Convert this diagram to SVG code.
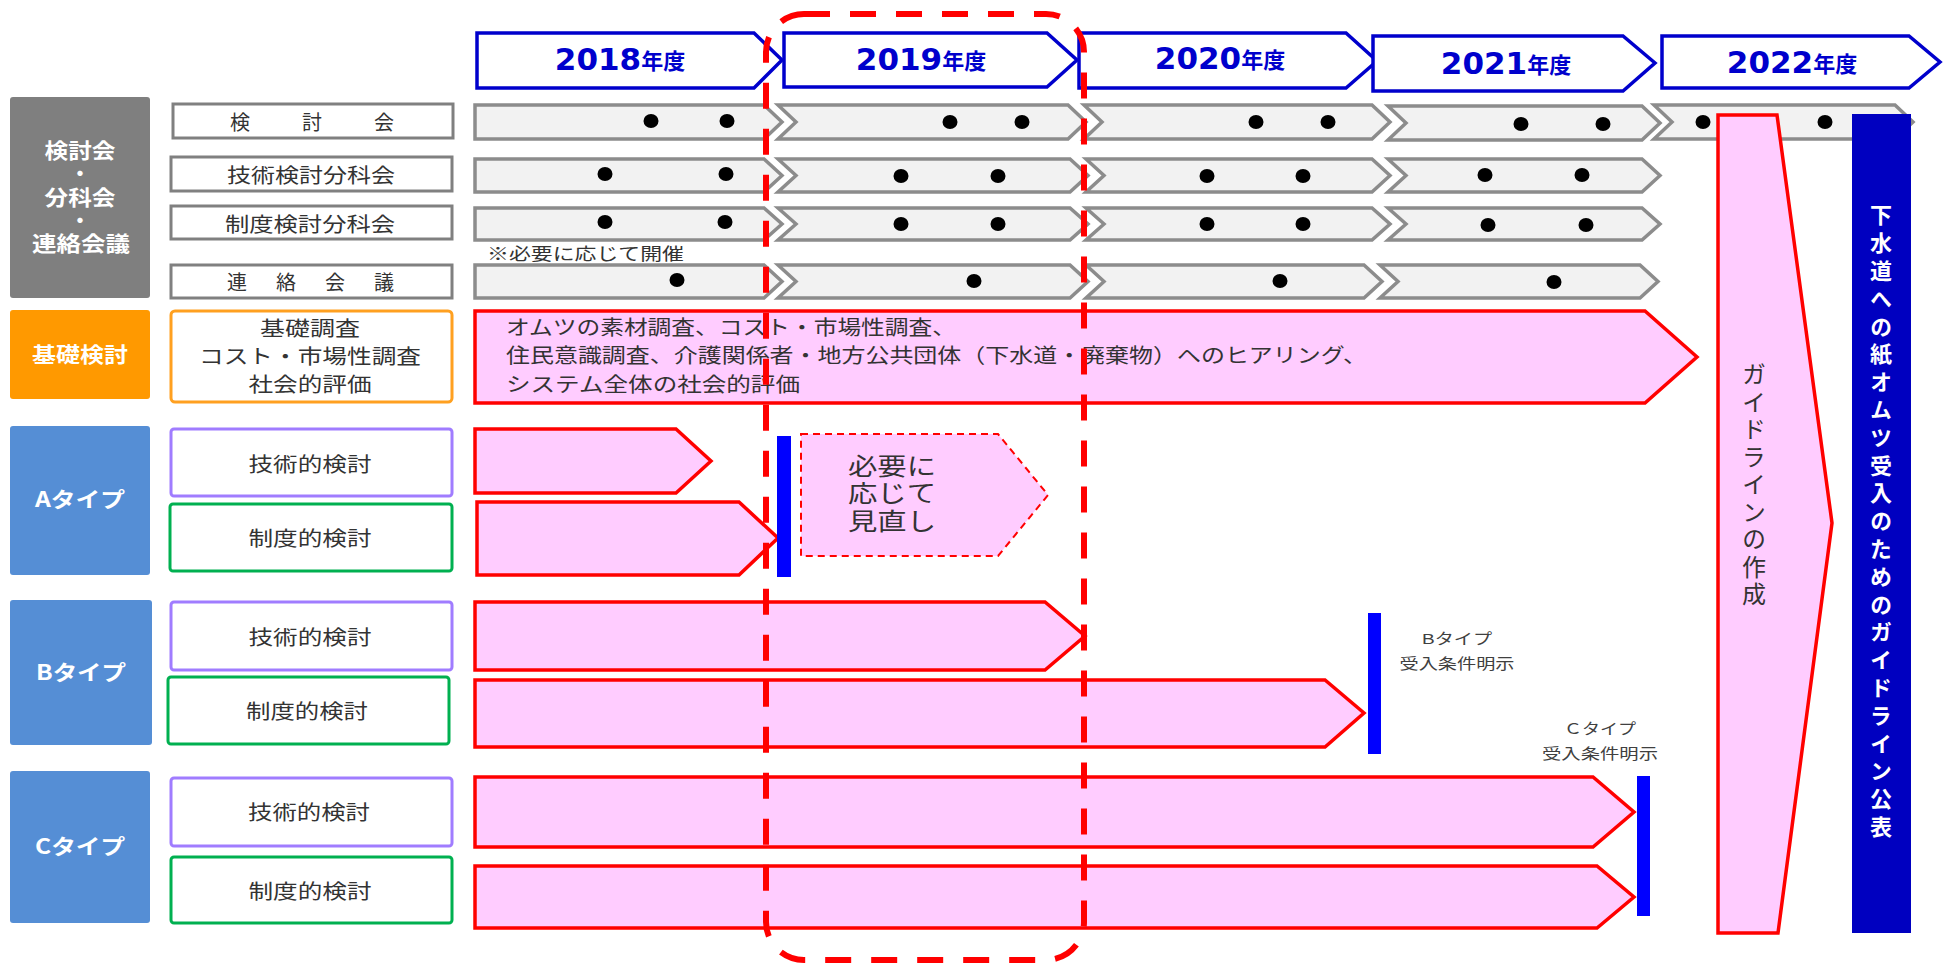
<svg xmlns="http://www.w3.org/2000/svg" width="1955" height="965" viewBox="0 0 1955 965">
<style>
text{font-family:"Noto Sans CJK JP","Noto Sans",sans-serif;dominant-baseline:central}
.ml{font-family:"Liberation Sans","Noto Sans CJK JP",sans-serif}
.hdr{fill:#fff;stroke:#0000CC;stroke-width:3.5}
.hdrt{fill:#0000CC;font-weight:bold;text-anchor:middle}
.num{font-family:"DejaVu Sans",sans-serif;font-size:31px}
.nen{font-size:22px}
.chev{fill:#F2F2F2;stroke:#8C8C8C;stroke-width:3.5}
.dot{fill:#000}
.lbl{fill:#fff;stroke:#808080;stroke-width:3}
.lt{fill:#333;font-size:20px;text-anchor:middle}
.wt{fill:#fff;font-size:21px;font-weight:bold;text-anchor:middle}
.pink{fill:#FFCCFF;stroke:#FF0000;stroke-width:3.5;stroke-linejoin:miter}
.pt{fill:#333;font-size:20px}
.bar{fill:#0000FF}
.sm{fill:#404040;font-size:15px;text-anchor:middle}
.purple{fill:#fff;stroke:#A07CFF;stroke-width:3}
.green{fill:#fff;stroke:#00B050;stroke-width:3}
.typ{fill:#558ED5}
</style>

<g id="headers">
<g id="h2018"><path class="hdr" d="M477,33 H754 L782,60 L754,88 H477 Z"/><text class="hdrt" x="620" y="59"><tspan class="num">2018</tspan><tspan class="nen">年度</tspan></text></g>
<g id="h2019"><path class="hdr" d="M784,33 H1047 L1077,60 L1047,87 H784 Z"/><text class="hdrt" x="921" y="59"><tspan class="num">2019</tspan><tspan class="nen">年度</tspan></text></g>
<g id="h2020"><path class="hdr" d="M1079,33 H1346 L1377,61 L1346,88 H1079 Z"/><text class="hdrt" x="1220" y="58"><tspan class="num">2020</tspan><tspan class="nen">年度</tspan></text></g>
<g id="h2021"><path class="hdr" d="M1373,36 H1623 L1655,63 L1623,91 H1373 Z"/><text class="hdrt" x="1506" y="63"><tspan class="num">2021</tspan><tspan class="nen">年度</tspan></text></g>
<g id="h2022"><path class="hdr" d="M1662,36 H1909 L1940,62 L1909,88 H1662 Z"/><text class="hdrt" x="1792" y="62"><tspan class="num">2022</tspan><tspan class="nen">年度</tspan></text></g>
</g>

<g id="group-meetings">
<rect x="10" y="97" width="140" height="201" rx="3" fill="#7F7F7F"/>
<text class="wt ml"><tspan x="80" y="150" textLength="71" lengthAdjust="spacingAndGlyphs">検討会</tspan><tspan x="80" y="173">・</tspan><tspan x="80" y="197" textLength="71" lengthAdjust="spacingAndGlyphs">分科会</tspan><tspan x="80" y="220">・</tspan><tspan x="81" y="243" textLength="98" lengthAdjust="spacingAndGlyphs">連絡会議</tspan></text>
</g>

<g id="label-kentoukai"><rect class="lbl" x="173" y="104" width="280" height="34"/><text class="lt" x="230" y="121" style="text-anchor:start;letter-spacing:16px">検　討　会</text></g>
<g id="label-gijutsu-bunkakai"><rect class="lbl" x="171" y="157" width="281" height="34"/><text class="lt" x="311" y="174" textLength="168" lengthAdjust="spacingAndGlyphs">技術検討分科会</text></g>
<g id="label-seido-bunkakai"><rect class="lbl" x="171" y="206" width="281" height="33"/><text class="lt" x="310" y="223" textLength="170" lengthAdjust="spacingAndGlyphs">制度検討分科会</text></g>
<g id="label-renraku"><rect class="lbl" x="171" y="265" width="281" height="33"/><text class="lt" x="227" y="281" style="text-anchor:start;letter-spacing:4.5px">連　絡　会　議</text></g>

<g id="timeline-rows">
<path class="chev" d="M475,105 H764 L782,122 L764,139 H475 Z"/>
<path class="chev" d="M778,105 H1068 L1086,122 L1068,139 H778 L796,122 Z"/>
<path class="chev" d="M1084,105 H1372 L1390,122 L1372,139 H1084 L1102,122 Z"/>
<path class="chev" d="M1388,106 H1642 L1660,123 L1642,140 H1388 L1406,123 Z"/>
<path class="chev" d="M1654,105 H1895 L1913,122 L1895,139 H1654 L1672,122 Z"/>

<path class="chev" d="M475,159 H764 L782,175.5 L764,192 H475 Z"/>
<path class="chev" d="M778,159 H1070 L1088,175.5 L1070,192 H778 L796,175.5 Z"/>
<path class="chev" d="M1086,159 H1372 L1390,175.5 L1372,192 H1086 L1104,175.5 Z"/>
<path class="chev" d="M1388,159 H1642 L1660,175.5 L1642,192 H1388 L1406,175.5 Z"/>

<path class="chev" d="M475,208 H764 L782,224 L764,240 H475 Z"/>
<path class="chev" d="M778,208 H1070 L1088,224 L1070,240 H778 L796,224 Z"/>
<path class="chev" d="M1086,208 H1372 L1390,224 L1372,240 H1086 L1104,224 Z"/>
<path class="chev" d="M1388,208 H1642 L1660,224 L1642,240 H1388 L1406,224 Z"/>

<path class="chev" d="M475,265 H764 L782,281.5 L764,298 H475 Z"/>
<path class="chev" d="M778,265 H1070 L1088,281.5 L1070,298 H778 L796,281.5 Z"/>
<path class="chev" d="M1086,265 H1364 L1382,281.5 L1364,298 H1086 L1104,281.5 Z"/>
<path class="chev" d="M1380,265 H1640 L1658,281.5 L1640,298 H1380 L1398,281.5 Z"/>

<g>
<ellipse class="dot" cx="651" cy="121" rx="7.5" ry="7"/><ellipse class="dot" cx="727" cy="121" rx="7.5" ry="7"/>
<ellipse class="dot" cx="950" cy="122" rx="7.5" ry="7"/><ellipse class="dot" cx="1022" cy="122" rx="7.5" ry="7"/>
<ellipse class="dot" cx="1256" cy="122" rx="7.5" ry="7"/><ellipse class="dot" cx="1328" cy="122" rx="7.5" ry="7"/>
<ellipse class="dot" cx="1521" cy="124" rx="7.5" ry="7"/><ellipse class="dot" cx="1603" cy="124" rx="7.5" ry="7"/>
<ellipse class="dot" cx="1703" cy="122" rx="7.5" ry="7"/><ellipse class="dot" cx="1825" cy="122" rx="7.5" ry="7"/>

<ellipse class="dot" cx="605" cy="174" rx="7.5" ry="7"/><ellipse class="dot" cx="726" cy="174" rx="7.5" ry="7"/>
<ellipse class="dot" cx="901" cy="176" rx="7.5" ry="7"/><ellipse class="dot" cx="998" cy="176" rx="7.5" ry="7"/>
<ellipse class="dot" cx="1207" cy="176" rx="7.5" ry="7"/><ellipse class="dot" cx="1303" cy="176" rx="7.5" ry="7"/>
<ellipse class="dot" cx="1485" cy="175" rx="7.5" ry="7"/><ellipse class="dot" cx="1582" cy="175" rx="7.5" ry="7"/>

<ellipse class="dot" cx="605" cy="222" rx="7.5" ry="7"/><ellipse class="dot" cx="725" cy="222" rx="7.5" ry="7"/>
<ellipse class="dot" cx="901" cy="224" rx="7.5" ry="7"/><ellipse class="dot" cx="998" cy="224" rx="7.5" ry="7"/>
<ellipse class="dot" cx="1207" cy="224" rx="7.5" ry="7"/><ellipse class="dot" cx="1303" cy="224" rx="7.5" ry="7"/>
<ellipse class="dot" cx="1488" cy="225" rx="7.5" ry="7"/><ellipse class="dot" cx="1586" cy="225" rx="7.5" ry="7"/>

<ellipse class="dot" cx="677" cy="280" rx="7.5" ry="7"/><ellipse class="dot" cx="974" cy="281" rx="7.5" ry="7"/>
<ellipse class="dot" cx="1280" cy="281" rx="7.5" ry="7"/><ellipse class="dot" cx="1554" cy="282" rx="7.5" ry="7"/>
</g>
<text x="487" y="252" fill="#333" font-size="17" textLength="197" lengthAdjust="spacingAndGlyphs">※必要に応じて開催</text>
</g>

<g id="kiso">
<rect x="10" y="310" width="140" height="89" rx="3" fill="#FF9900"/>
<text class="wt" x="80" y="353" textLength="96" lengthAdjust="spacingAndGlyphs">基礎検討</text>
<rect x="171" y="311" width="281" height="91" rx="4" fill="#fff" stroke="#FFA020" stroke-width="3"/>
<text class="lt ml"><tspan x="310" y="329" textLength="100" lengthAdjust="spacingAndGlyphs">基礎調査</tspan><tspan x="310" y="357" textLength="222" lengthAdjust="spacingAndGlyphs">コスト・市場性調査</tspan><tspan x="310" y="385" textLength="123" lengthAdjust="spacingAndGlyphs">社会的評価</tspan></text>
<path class="pink" d="M475,311 H1645 L1697,357 L1645,403 H475 Z"/>
<text class="pt ml"><tspan x="506" y="328" textLength="450" lengthAdjust="spacingAndGlyphs">オムツの素材調査、コスト・市場性調査、</tspan><tspan x="506" y="356" textLength="861" lengthAdjust="spacingAndGlyphs">住民意識調査、介護関係者・地方公共団体（下水道・廃棄物）へのヒアリング、</tspan><tspan x="506" y="385" textLength="294" lengthAdjust="spacingAndGlyphs">システム全体の社会的評価</tspan></text>
</g>

<g id="type-a">
<rect class="typ" x="10" y="426" width="140" height="149" rx="3"/>
<text class="wt" x="80" y="498" textLength="90" lengthAdjust="spacingAndGlyphs">Aタイプ</text>
<rect class="purple" x="171" y="429" width="281" height="67" rx="3"/>
<text class="lt" x="310" y="463" textLength="123" lengthAdjust="spacingAndGlyphs">技術的検討</text>
<rect class="green" x="170" y="504" width="282" height="67" rx="3"/>
<text class="lt" x="310" y="537" textLength="123" lengthAdjust="spacingAndGlyphs">制度的検討</text>
<path class="pink" d="M475,429 H676 L711,461 L676,493 H475 Z"/>
<path class="pink" d="M477,502 H739 L778,538 L739,575 H477 Z"/>
<rect class="bar" x="777" y="436" width="14" height="141"/>
<path d="M801,434 H998 L1048,495 L998,556 H801 Z" fill="#FFCCFF" stroke="#FF0000" stroke-width="2" stroke-dasharray="7,5"/>
<text class="ml" fill="#333" font-size="24"><tspan x="848" y="466" textLength="88" lengthAdjust="spacingAndGlyphs">必要に</tspan><tspan x="848" y="493" textLength="88" lengthAdjust="spacingAndGlyphs">応じて</tspan><tspan x="848" y="521" textLength="88" lengthAdjust="spacingAndGlyphs">見直し</tspan></text>
</g>

<g id="type-b">
<rect class="typ" x="10" y="600" width="142" height="145" rx="3"/>
<text class="wt" x="81" y="671" textLength="90" lengthAdjust="spacingAndGlyphs">Bタイプ</text>
<rect class="purple" x="171" y="602" width="281" height="68" rx="3"/>
<text class="lt" x="310" y="636" textLength="123" lengthAdjust="spacingAndGlyphs">技術的検討</text>
<rect class="green" x="168" y="677" width="281" height="67" rx="3"/>
<text class="lt" x="307" y="710" textLength="122" lengthAdjust="spacingAndGlyphs">制度的検討</text>
<path class="pink" d="M475,602 H1045 L1085,636 L1045,670 H475 Z"/>
<path class="pink" d="M475,680 H1325 L1364,713 L1325,747 H475 Z"/>
<rect class="bar" x="1368" y="613" width="13" height="141"/>
<text class="sm ml"><tspan x="1457" y="638" textLength="70" lengthAdjust="spacingAndGlyphs">Bタイプ</tspan><tspan x="1457" y="663" textLength="115" lengthAdjust="spacingAndGlyphs">受入条件明示</tspan></text>
</g>

<g id="type-c">
<rect class="typ" x="10" y="771" width="140" height="152" rx="3"/>
<text class="wt" x="80" y="845" textLength="90" lengthAdjust="spacingAndGlyphs">Cタイプ</text>
<rect class="purple" x="171" y="778" width="281" height="68" rx="3"/>
<text class="lt" x="309" y="811" textLength="122" lengthAdjust="spacingAndGlyphs">技術的検討</text>
<rect class="green" x="171" y="857" width="281" height="66" rx="3"/>
<text class="lt" x="310" y="890" textLength="123" lengthAdjust="spacingAndGlyphs">制度的検討</text>
<path class="pink" d="M475,777 H1593 L1634,812 L1593,847 H475 Z"/>
<path class="pink" d="M475,866 H1597 L1634,897 L1597,928 H475 Z"/>
<rect class="bar" x="1637" y="776" width="13" height="140"/>
<text class="sm ml"><tspan x="1600" y="728" textLength="72" lengthAdjust="spacingAndGlyphs">Ｃタイプ</tspan><tspan x="1600" y="753" textLength="116" lengthAdjust="spacingAndGlyphs">受入条件明示</tspan></text>
</g>

<g id="guideline-make">
<path class="pink" d="M1718,115 H1777 L1832,523 L1778,933 H1718 Z"/>
<text x="1754" y="362" fill="#333" font-size="24" style="writing-mode:vertical-rl;letter-spacing:3.5px;dominant-baseline:auto">ガイドラインの作成</text>
</g>

<g id="guideline-publish">
<rect x="1852" y="114" width="59" height="819" fill="#0000C0"/>
<text x="1881" y="204" fill="#fff" font-size="22" font-weight="bold" style="writing-mode:vertical-rl;letter-spacing:5.8px;dominant-baseline:auto">下水道への紙オムツ受入のためのガイドライン公表</text>
</g>

<g id="highlight-2019">
<rect x="766" y="14" width="318" height="946" rx="38" fill="none" stroke="#FF0000" stroke-width="6" stroke-dasharray="26,20"/>
</g>
</svg>
